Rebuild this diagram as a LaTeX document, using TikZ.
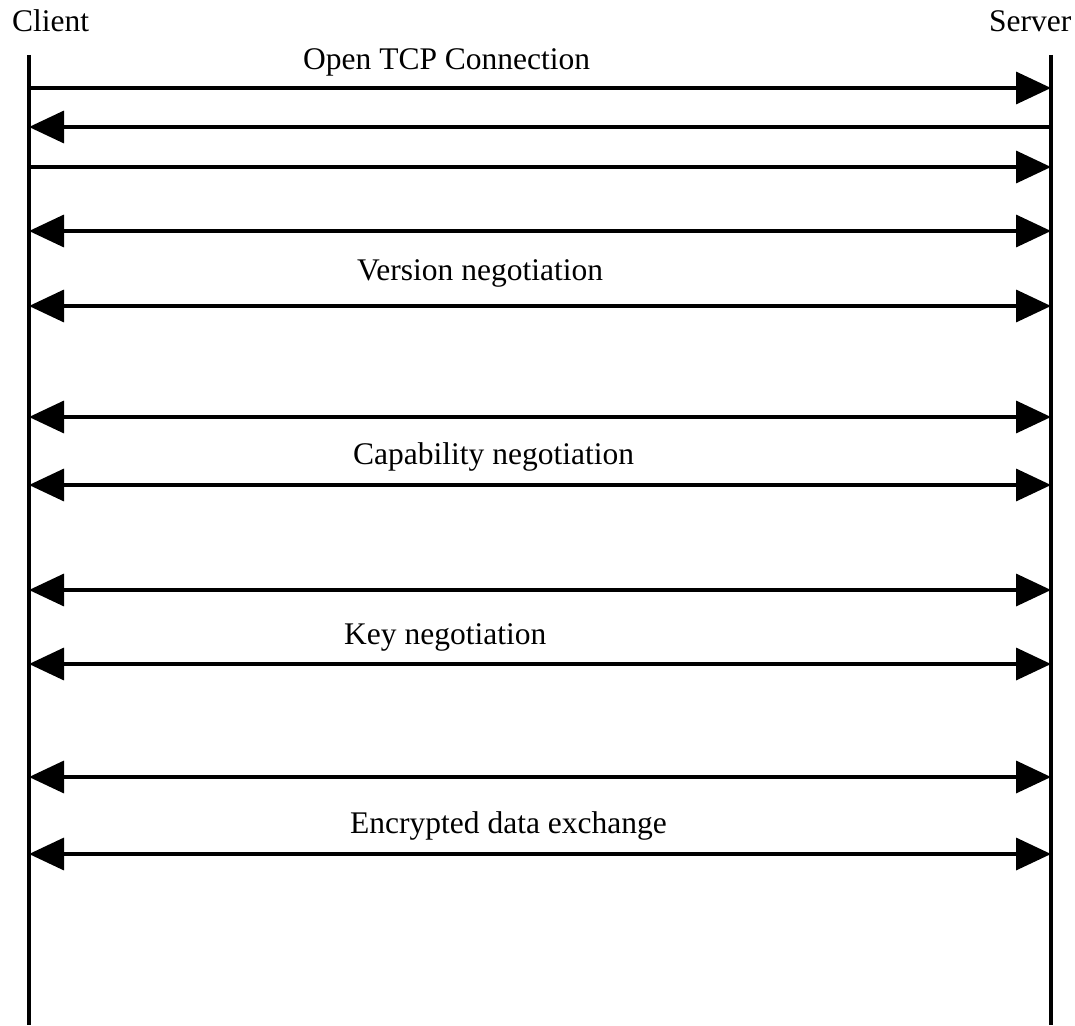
\documentclass[tikz,border=0pt]{standalone}
\usepackage{fontspec}
\setmainfont{Liberation Serif}
\usepackage{tikz}
\usetikzlibrary{arrows.meta, positioning}

\begin{document}
\begin{tikzpicture}[
    x=1pt, y=-1pt,
    party/.style={font=\fontsize{31.5}{36}\selectfont, inner sep=0pt, anchor=base west},
    label/.style={font=\fontsize{31.5}{36}\selectfont, inner sep=0pt, anchor=base west},
    lifeline/.style={line width=4.5pt},
    msg/.style={line width=3.5pt, -{Triangle[length=35pt, width=32pt]}},
    dmsg/.style={line width=3.5pt, {Triangle[length=35pt, width=32pt]}-{Triangle[length=35pt, width=32pt]}},
]
\useasboundingbox (0,0) rectangle (1075,1025);

\node[party] (client) at (12,32)  {Client};
\node[party] (server) at (989,32) {Server};

\coordinate (ctop) at (29,55);   \coordinate (cbot) at (29,1025);
\coordinate (stop) at (1051,55); \coordinate (sbot) at (1051,1025);
\draw[lifeline] (ctop) -- (cbot);
\draw[lifeline] (stop) -- (sbot);

% message end points on the two lifelines
\foreach \n/\y in {1/88, 2/127, 3/167, 4/231, 5/306, 6/417, 7/485, 8/590, 9/664, 10/777, 11/854} {
    \coordinate (c\n) at (29,\y);
    \coordinate (s\n) at (1051,\y);
}

\node[label] (tcp) at (303,69)  {Open TCP Connection};
\node[label] (ver) at (357,280) {Version negotiation};
\node[label] (cap) at (353,464) {Capability negotiation};
\node[label] (key) at (344,644) {Key negotiation};
\node[label] (enc) at (350,833) {Encrypted data exchange};

\draw[msg]  (c1)  -- (s1);
\draw[msg]  (s2)  -- (c2);
\draw[msg]  (c3)  -- (s3);
\draw[dmsg] (c4)  -- (s4);
\draw[dmsg] (c5)  -- (s5);
\draw[dmsg] (c6)  -- (s6);
\draw[dmsg] (c7)  -- (s7);
\draw[dmsg] (c8)  -- (s8);
\draw[dmsg] (c9)  -- (s9);
\draw[dmsg] (c10) -- (s10);
\draw[dmsg] (c11) -- (s11);

\end{tikzpicture}
\end{document}
